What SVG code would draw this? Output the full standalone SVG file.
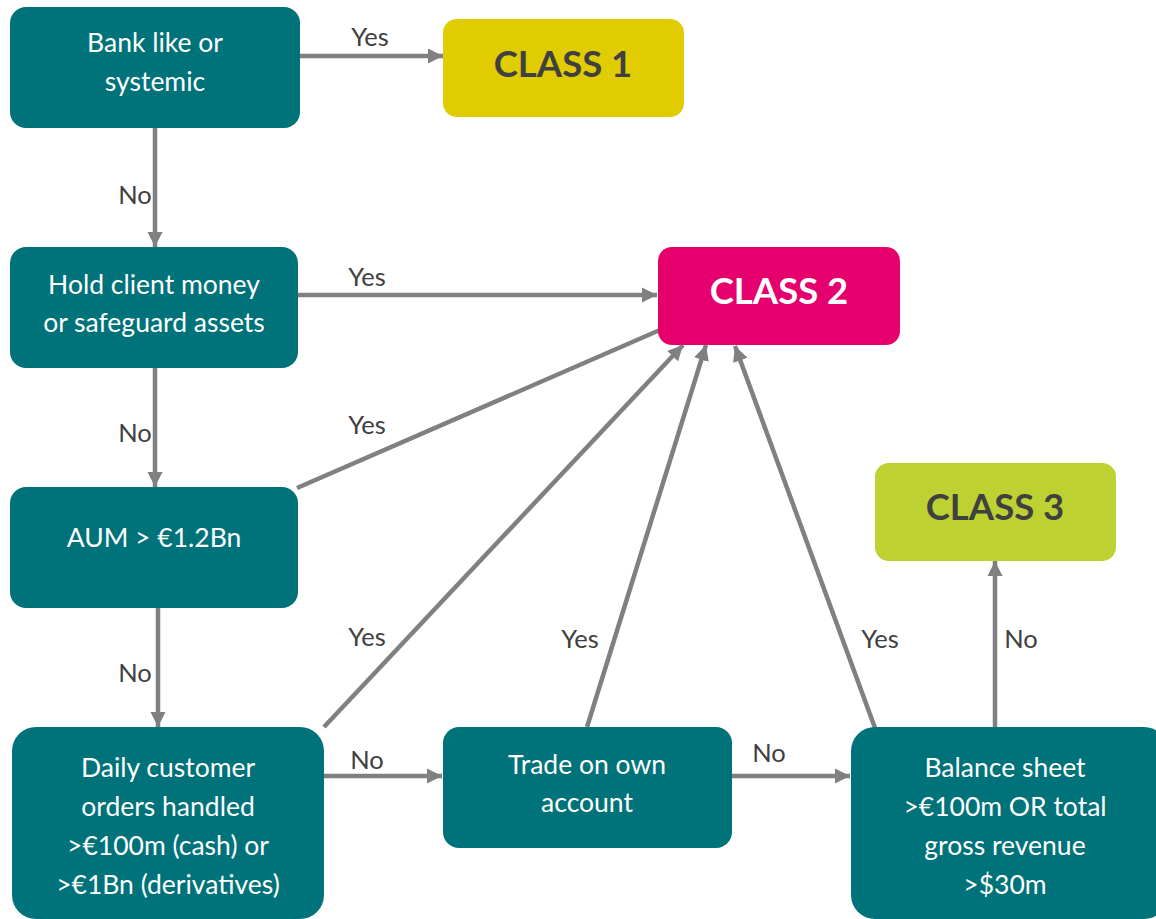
<svg xmlns="http://www.w3.org/2000/svg" width="1156" height="919" viewBox="0 0 1156 919">
<style>
.q{fill:#00727A}
.t{font-family:Lato,"Liberation Sans",sans-serif;font-size:26.5px;fill:#ffffff;text-anchor:middle}
.c{font-family:Lato,"Liberation Sans",sans-serif;font-size:36.5px;font-weight:bold;text-anchor:middle}
.l{font-family:Lato,"Liberation Sans",sans-serif;font-size:25.5px;fill:#404040;text-anchor:middle}
.e{stroke:#808080;stroke-width:4.5;fill:none;marker-end:url(#ah)}
</style>
<defs>
<marker id="ah" viewBox="0 0 10 10" refX="10" refY="5" markerWidth="3.4" markerHeight="3.4" orient="auto" markerUnits="strokeWidth">
<path d="M0,0 L10,5 L0,10 z" fill="#808080"/>
</marker>
</defs>
<rect width="1156" height="919" fill="#ffffff"/>
<g id="connectors">
<line class="e" x1="300" y1="56" x2="443" y2="56"/>
<line class="e" x1="155" y1="128" x2="155" y2="247"/>
<line class="e" x1="298" y1="295" x2="657" y2="295"/>
<line class="e" x1="155" y1="368" x2="155" y2="487"/>
<line class="e" x1="297" y1="488" x2="676" y2="323"/>
<line class="e" x1="158" y1="608" x2="158" y2="727"/>
<line class="e" x1="324" y1="727" x2="683" y2="345"/>
<line class="e" x1="324" y1="776" x2="442" y2="776"/>
<line class="e" x1="587" y1="727" x2="706" y2="345"/>
<line class="e" x1="732" y1="776" x2="850" y2="776"/>
<line class="e" x1="875" y1="728" x2="735" y2="346"/>
<line class="e" x1="995" y1="728" x2="995" y2="561"/>
<text class="l" x="370" y="46">Yes</text>
<text class="l" x="135" y="204">No</text>
<text class="l" x="367" y="286">Yes</text>
<text class="l" x="135" y="442">No</text>
<text class="l" x="367" y="434">Yes</text>
<text class="l" x="135" y="682">No</text>
<text class="l" x="367" y="646">Yes</text>
<text class="l" x="367" y="769">No</text>
<text class="l" x="580" y="648">Yes</text>
<text class="l" x="769" y="762">No</text>
<text class="l" x="880" y="648">Yes</text>
<text class="l" x="1021" y="648">No</text>
</g>
<g id="bank">
<rect class="q" x="10" y="7" width="290" height="121" rx="16"/>
<text class="t" x="155" y="52">Bank like or</text>
<text class="t" x="155" y="91">systemic</text>
</g>
<g id="class1">
<rect x="443" y="19" width="241" height="98" rx="14" fill="#E0CC00"/>
<text class="c" x="563" y="77" fill="#404040">CLASS 1</text>
</g>
<g id="hold">
<rect class="q" x="10" y="247" width="288" height="121" rx="16"/>
<text class="t" x="154" y="294">Hold client money</text>
<text class="t" x="154" y="332">or safeguard assets</text>
</g>
<g id="class2">
<rect x="658" y="247" width="242" height="98" rx="14" fill="#E6006E"/>
<text class="c" x="779" y="304" fill="#ffffff">CLASS 2</text>
</g>
<g id="aum">
<rect class="q" x="10" y="487" width="288" height="121" rx="16"/>
<text class="t" x="154" y="547">AUM &gt; €1.2Bn</text>
</g>
<g id="class3">
<rect x="875" y="463" width="241" height="98" rx="14" fill="#BDD232"/>
<text class="c" x="995" y="520" fill="#404040">CLASS 3</text>
</g>
<g id="daily">
<rect class="q" x="12" y="727" width="312" height="192" rx="24"/>
<text class="t" x="168" y="777">Daily customer</text>
<text class="t" x="168" y="816">orders handled</text>
<text class="t" x="168" y="855">&gt;€100m (cash) or</text>
<text class="t" x="168" y="894">&gt;€1Bn (derivatives)</text>
</g>
<g id="trade">
<rect class="q" x="443" y="727" width="289" height="121" rx="16"/>
<text class="t" x="587" y="774">Trade on own</text>
<text class="t" x="587" y="812">account</text>
</g>
<g id="balance">
<rect class="q" x="851" y="727" width="317" height="192" rx="24"/>
<text class="t" x="1005" y="777">Balance sheet</text>
<text class="t" x="1005" y="816">&gt;€100m OR total</text>
<text class="t" x="1005" y="855">gross revenue</text>
<text class="t" x="1005" y="894">&gt;$30m</text>
</g>
</svg>
